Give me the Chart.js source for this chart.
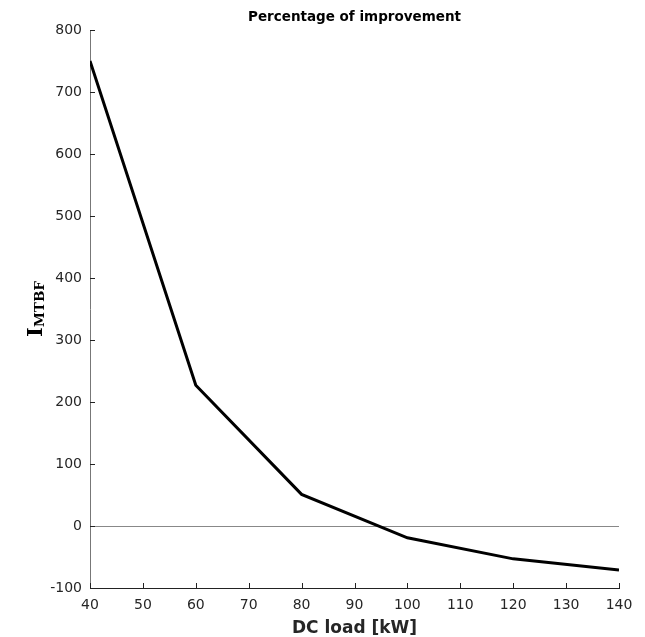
<!DOCTYPE html>
<html>
<head>
<meta charset="utf-8">
<script src="https://cdn.jsdelivr.net/npm/chart.js@4"></script>
<style>
  html, body { margin: 0; padding: 0; background: #fff; }
  #wrap { width: 645px; height: 637px; }
</style>
</head>
<body>
<div id="wrap"><canvas id="chart" width="645" height="637"></canvas></div>
<script>
  // DC load in kW and the matching improvement value
  const loads = [40, 60, 80, 100, 120, 140];
  const improvement = [750, 227, 51, -19, -53, -71];

  const xTicks = [40, 50, 60, 70, 80, 90, 100, 110, 120, 130, 140];
  const yTicks = [-100, 0, 100, 200, 300, 400, 500, 600, 700, 800];

  const titleText = 'Percentage of improvement';
  const xLabel = 'DC load [kW]';

  // inward tick marks, title and axis labels
  const decorations = {
    id: 'decorations',
    afterDraw(chart) {
      const { ctx, chartArea: a, scales: { x, y } } = chart;
      ctx.save();
      ctx.strokeStyle = '#222';
      ctx.lineWidth = 1;
      ctx.beginPath();
      xTicks.forEach(v => {
        const px = Math.round(x.getPixelForValue(v)) + 0.5;
        ctx.moveTo(px, a.bottom);
        ctx.lineTo(px, a.bottom - 5);
      });
      yTicks.forEach(v => {
        const py = Math.round(y.getPixelForValue(v)) + 0.5;
        ctx.moveTo(a.left, py);
        ctx.lineTo(a.left + 5, py);
      });
      ctx.stroke();

      ctx.fillStyle = '#000';
      ctx.textAlign = 'center';
      ctx.textBaseline = 'alphabetic';
      ctx.font = 'bold 13.5px "DejaVu Sans"';
      ctx.fillText(titleText, (a.left + a.right) / 2, 21);

      ctx.fillStyle = '#262626';
      ctx.font = 'bold 17px "DejaVu Sans"';
      ctx.fillText(xLabel, (a.left + a.right) / 2, 633);

      // I with MTBF subscript, rotated
      ctx.translate(42, 309);
      ctx.rotate(-Math.PI / 2);
      ctx.fillStyle = '#000';
      ctx.textAlign = 'left';
      ctx.font = 'bold 21px "DejaVu Serif"';
      const iw = ctx.measureText('I').width;
      ctx.font = 'bold 13.5px "DejaVu Serif"';
      const sw = ctx.measureText('MTBF').width;
      const start = -(iw + sw) / 2;
      ctx.font = 'bold 21px "DejaVu Serif"';
      ctx.fillText('I', start, 0);
      ctx.font = 'bold 13.5px "DejaVu Serif"';
      ctx.fillText('MTBF', start + iw, 2);
      ctx.restore();
    }
  };

  new Chart(document.getElementById('chart').getContext('2d'), {
    type: 'line',
    data: {
      datasets: [{
        data: loads.map((v, i) => ({ x: v, y: improvement[i] })),
        borderColor: '#000',
        borderWidth: 3,
        pointRadius: 0,
        tension: 0,
        fill: false
      }]
    },
    options: {
      responsive: false,
      animation: false,
      layout: { padding: { top: 30, right: 26, left: 0, bottom: 0 } },
      plugins: { legend: { display: false }, tooltip: { enabled: false } },
      scales: {
        x: {
          type: 'linear',
          min: 40, max: 140,
          afterBuildTicks: s => { s.ticks = xTicks.map(v => ({ value: v })); },
          afterFit: s => { s.height = 49; },
          grid: { display: false },
          border: { color: '#222', width: 1 },
          ticks: { color: '#262626', font: { family: 'DejaVu Sans', size: 14 }, padding: 1, maxRotation: 0 }
        },
        y: {
          min: -100, max: 800,
          afterBuildTicks: s => { s.ticks = yTicks.map(v => ({ value: v })); },
          afterFit: s => { s.width = 90; },
          grid: {
            drawTicks: false,
            color: c => c.tick && c.tick.value === 0 ? '#888' : 'rgba(0,0,0,0)',
            lineWidth: 1
          },
          border: { color: '#777', width: 1 },
          ticks: { color: '#262626', font: { family: 'DejaVu Sans', size: 14 }, padding: 8 }
        }
      }
    },
    plugins: [decorations]
  });
</script>
</body>
</html>
